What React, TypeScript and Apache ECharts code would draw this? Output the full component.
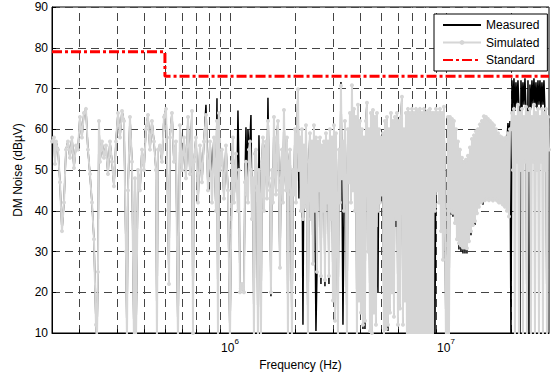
import React, { useEffect, useRef } from "react";
import * as echarts from "echarts";

// ---------- data (frequency in MHz, level in dBµV) ----------
// Band 1: 0.15 – 1 MHz
const freqBand1 = [0.15, 0.1532, 0.1548, 0.1565, 0.1599, 0.1633, 0.1668, 0.1704, 0.1741, 0.1778, 0.1817, 0.1856, 0.1896, 0.1937, 0.1979, 0.202, 0.2064, 0.2108, 0.2154, 0.22, 0.2248, 0.2297, 0.2346, 0.2397, 0.2422, 0.2448, 0.2474, 0.2501, 0.2555, 0.261, 0.2666, 0.2724, 0.2783, 0.2843, 0.2904, 0.2967, 0.3031, 0.3096, 0.3163, 0.3231, 0.3301, 0.3336, 0.3372, 0.3444, 0.3518, 0.3594, 0.3633, 0.3672, 0.3751, 0.3831, 0.3914, 0.3998, 0.4084, 0.4172, 0.4262, 0.4354, 0.4448, 0.4544, 0.4592, 0.4641, 0.4742, 0.4844, 0.4949, 0.5056, 0.5165, 0.522, 0.5275, 0.5389, 0.5505, 0.5624, 0.5745, 0.5869, 0.5996, 0.6125, 0.6257, 0.6392, 0.6529, 0.667, 0.6742, 0.6814, 0.6961, 0.7111, 0.7263, 0.742, 0.758, 0.7743, 0.791, 0.808, 0.8255, 0.8433, 0.8615, 0.8707, 0.8801, 0.8895, 0.8989, 0.9183, 0.9381, 0.9583, 0.9789, 1.0];
const simBand1 = [57, 58, 51.5, 57, 55, 47, 35, 42, 55, 57, 53, 58, 50.5, 56, 55, 63, 58, 64, 65, 55, 49, 42, 33, 12, 8, 25, 62, 52, 57, 53, 56, 49, 57, 52, 46, 57, 64, 58, 64.5, 62, 30, 8, 45, 63, 52, 8, 48, 8, 50, 45, 55, 50, 60, 63.5, 55, 62, 57, 50, 8, 55, 56, 52, 63, 65, 40, 22, 58, 64, 52, 57, 8, 61, 50, 58, 48, 63, 49, 64.5, 10, 52, 58, 42, 56, 47, 57, 63.5, 45, 57, 42, 58, 40, 62, 8, 64, 50, 55, 43, 56, 45, 8];
const measBand1 = [57, 58, 51.5, 57, 55, 47, 35, 42, 55, 57, 53, 58, 50.5, 56, 55, 63, 58, 64, 65, 55, 49, 42, 33, 12, 8, 25, 62, 52, 57, 53, 56, 49, 57, 52, 46, 57, 64, 58, 64.5, 62, 30, 8, 45, 63, 52, 8, 48, 8, 50, 45, 55, 50, 60, 63.5, 55, 62, 57, 50, 8, 55, 56, 52, 63, 65, 40, 22, 58, 64, 52, 57, 8, 61, 50, 58, 48, 63, 49, 64.5, 10, 52, 58, 42, 56, 47, 57, 66, 45, 57, 49, 58, 40, 67.6, 8, 64, 50, 55, 43, 56, 45, 8];

// Band 2: 1 – 2.5 MHz
const freqBand2 = [1.0216, 1.0325, 1.0436, 1.0548, 1.0661, 1.0775, 1.089, 1.1007, 1.1125, 1.1244, 1.1365, 1.1487, 1.161, 1.1734, 1.186, 1.1987, 1.2115, 1.2245, 1.2376, 1.2509, 1.2643, 1.2778, 1.2915, 1.3054, 1.3194, 1.3335, 1.3478, 1.3622, 1.3768, 1.3916, 1.4065, 1.4215, 1.4368, 1.4522, 1.4677, 1.4835, 1.4994, 1.5155, 1.5317, 1.5481, 1.5647, 1.5815, 1.5984, 1.6156, 1.6329, 1.6504, 1.6681, 1.686, 1.704, 1.7223, 1.7407, 1.7594, 1.7782, 1.7973, 1.8166, 1.836, 1.8557, 1.8756, 1.8957, 1.916, 1.9366, 1.9573, 1.9783, 1.9995, 2.0209, 2.0426, 2.0645, 2.0866, 2.109, 2.1316, 2.1545, 2.1776, 2.2009, 2.2245, 2.2484, 2.2725, 2.2969, 2.3214, 2.3462, 2.3714, 2.3968, 2.4225, 2.4484, 2.4747, 2.5012];
const simBand2 = [52, 58, 42, 49, 54, 45, 40, 50, 20, 21, 22, 21, 20, 47, 52, 44, 42, 55, 57, 50, 38, 48, 8, 54, 55, 45, 8, 50, 43, 8, 52, 58, 40, 55, 57, 43, 62, 48, 45, 20, 50, 42, 63, 50, 44, 58, 62, 45, 26, 48, 55, 42, 64.7, 50, 45, 58, 8, 52, 55, 44, 8, 50, 44, 60, 42, 58, 69.8, 50, 58, 40, 60, 38, 56, 41, 61, 44, 8, 52, 59, 38, 57, 27, 61, 40, 58];
const measBand2 = [52, 58, 42, 49, 54, 45, 64.6, 50, 20, 21, 22, 21, 20, 47, 60.5, 44, 60, 55, 57, 63.5, 38, 48, 8, 54, 55, 45, 8, 58.5, 43, 8, 52, 58, 40, 55, 57, 43, 67.7, 48, 45, 19, 50, 42, 63, 50, 44, 58, 62, 45, 26, 48, 55, 42, 64.7, 50, 45, 58, 8, 52, 55, 44, 8, 50, 44, 60, 42, 58, 69.8, 43, 58, 40, 60, 12, 56, 41, 61, 44, 8, 52, 59, 38, 57, 27, 61, 40, 10.5];

// Band 3: 2.5 – 10 MHz
const freqBand3 = [2.528, 2.5551, 2.5825, 2.6102, 2.6382, 2.6665, 2.695, 2.7239, 2.7531, 2.7826, 2.8125, 2.8426, 2.8731, 2.9039, 2.935, 2.9665, 2.9983, 3.0304, 3.0629, 3.0957, 3.1289, 3.1624, 3.1963, 3.2306, 3.2652, 3.3002, 3.3356, 3.3714, 3.4075, 3.444, 3.4809, 3.5182, 3.5559, 3.594, 3.6325, 3.6715, 3.7108, 3.7506, 3.7908, 3.8314, 3.8725, 3.914, 3.956, 3.9984, 4.0413, 4.0846, 4.1284, 4.1726, 4.2173, 4.2625, 4.3082, 4.3544, 4.4011, 4.4482, 4.4959, 4.5441, 4.5928, 4.642, 4.6918, 4.7421, 4.7929, 4.8443, 4.8962, 4.9486, 5.0017, 5.0553, 5.1095, 5.1642, 5.2196, 5.2755, 5.3321, 5.3892, 5.447, 5.5053, 5.5643, 5.624, 5.6843, 5.7452, 5.8068, 5.869, 5.9319, 5.9955, 6.0597, 6.1247, 6.1903, 6.2567, 6.3237, 6.3915, 6.46, 6.5293, 6.5993, 6.67, 6.7415, 6.8138, 6.8868, 6.9606, 7.0352, 7.1106, 7.1868, 7.2639, 7.3417, 7.4204, 7.5, 7.5803, 7.6616, 7.7437, 7.8267, 7.9106, 7.9954, 8.0811, 8.1677, 8.2552, 8.3437, 8.4331, 8.5235, 8.6149, 8.7072, 8.8005, 8.8949, 8.9902, 9.0865, 9.1839, 9.2824, 9.3818, 9.4824, 9.584, 9.6868, 9.7906, 9.8955, 10.002];
const simBand3 = [25, 57, 45, 58, 24, 56, 40, 57, 23, 59, 42, 57, 24, 60, 38, 58, 18, 61, 13, 59, 40, 8, 55, 42, 70.7, 48, 57, 40, 62, 45, 8, 60, 47, 64, 42, 70.8, 45, 65, 40, 63, 8, 66, 18, 62, 15, 60, 12, 58, 13, 62, 66.5, 30, 60, 10.5, 64, 10, 64.7, 15, 63, 12, 64, 40, 60, 42, 58, 44, 59, 8, 62, 11, 63, 12, 60, 15, 64, 20, 62, 14, 63, 38, 64, 12, 62, 16, 63, 68, 12, 60, 18, 64, 8, 65, 8, 64, 8, 65, 8, 64, 8, 65, 8, 64.5, 8, 65, 8, 64, 8, 65, 8, 64, 8, 64.5, 8, 65, 8, 64, 8, 64, 40, 65, 45, 64, 42, 65, 35, 64, 28, 65.5, 40, 8];
const measBand3 = [25, 57, 45, 58, 22, 56, 40, 57, 21.5, 59, 42, 57, 22, 60, 38, 58, 18, 61, 13, 59, 40, 8, 55, 42, 71.6, 48, 12, 40, 62, 45, 8, 60, 47, 64, 42, 70.8, 45, 65, 40, 63, 8, 66, 18, 62, 15, 60, 11, 58, 11, 62, 66.5, 30, 60, 10.5, 64, 10.5, 64.7, 15, 63, 12, 36, 20, 60, 42, 58, 44, 59, 8, 62, 11, 63, 10.5, 60, 15, 64, 20, 62, 14, 63, 36, 64, 12, 62, 16, 63, 68, 12, 60, 18, 64, 8, 65, 8, 64, 8, 65, 8, 64, 8, 65, 8, 64.5, 8, 65, 8, 64, 8, 65, 8, 64, 8, 64.5, 8, 65, 8, 45, 8, 64, 8, 65, 45, 64, 42, 65, 35, 64, 28, 65.5, 40, 8];

// Band 4: 10 – 20 MHz
const freqBand4 = [10.109, 10.217, 10.327, 10.437, 10.549, 10.662, 10.776, 10.892, 11.008, 11.126, 11.246, 11.366, 11.488, 11.612, 11.736, 11.862, 11.989, 12.118, 12.248, 12.379, 12.512, 12.646, 12.781, 12.918, 13.057, 13.197, 13.338, 13.481, 13.626, 13.772, 13.919, 14.069, 14.219, 14.371, 14.525, 14.681, 14.838, 14.997, 15.158, 15.321, 15.485, 15.651, 15.819, 15.988, 16.16, 16.333, 16.508, 16.685, 16.864, 17.044, 17.227, 17.412, 17.598, 17.786, 17.977, 18.17, 18.364, 18.561, 18.76, 18.961, 19.164, 19.37, 19.577, 19.787];
const simBand4 = [8, 63, 8, 63, 40, 62.5, 39.5, 62, 37, 60, 33, 57, 32, 55, 31.5, 53, 31, 52, 31, 52.5, 30.8, 53.5, 32.5, 55.5, 35, 57.6, 36.5, 58.5, 37.5, 59.5, 39.4, 60, 41, 61.2, 42, 62, 42.5, 63.2, 42.6, 63, 43, 62.5, 42.6, 62, 43, 61.5, 42.5, 61, 43, 60, 42.5, 59, 42, 58.3, 42, 58, 41.5, 57.5, 41, 58, 40, 59, 38.6, 60];
const measBand4 = [8, 63, 8, 63, 39, 62.5, 38.5, 62, 37, 60, 33, 57, 30.5, 55, 30, 53, 29.5, 52, 29.5, 52.5, 29.5, 53.5, 32.5, 55.5, 34, 57.6, 36.5, 58.5, 36.5, 59.5, 39.4, 60, 41, 61.2, 42, 62, 41.5, 63.2, 42.6, 63, 43, 62.5, 42.6, 62, 43, 61.5, 42.5, 61, 43, 60, 42.5, 59, 42, 58.3, 42, 58, 41.5, 57.5, 41, 58, 57, 61.5, 58, 62];

// Band 5: 20 – 30 MHz
const freqBand5 = [19.999, 20.214, 20.43, 20.649, 20.871, 21.094, 21.32, 21.549, 21.78, 22.013, 22.249, 22.488, 22.729, 22.972, 23.218, 23.467, 23.719, 23.973, 24.23, 24.49, 24.752, 25.018, 25.286, 25.557, 25.831, 26.107, 26.387, 26.67, 26.956, 27.245, 27.537, 27.832, 28.13, 28.432, 28.737, 29.044, 29.356, 29.67, 29.988];
const simBand5 = [60, 64, 50, 65, 8, 63, 52, 66, 8, 64, 50, 65, 8, 63, 52, 65.5, 8, 64, 50, 65, 8, 63, 52, 66, 8, 64, 50, 65, 8, 63, 52, 65, 8, 64, 50, 65, 8, 63, 55];
const measBand5 = [8, 72, 65, 72.5, 64.5, 71.5, 66, 72, 65, 8, 72, 65, 71.5, 66, 72.5, 65, 8, 72, 8, 71, 65, 72, 66, 72.5, 65.5, 71.5, 65, 72, 66, 72, 65, 71.5, 66, 72, 64, 65, 8, 63, 55];

// Standard limit line
const standardFreq = [0.15, 0.5, 0.5, 30];
const standardLevel = [79, 79, 73, 73];

// Axis ranges and grid positions
const xRangeHz = [1.5e5, 3e7];
const yRange = [10, 90];
const yStep = 10;
const gridFreqMHz = [0.2, 0.3, 0.4, 0.5, 0.6, 0.7, 0.8, 0.9, 1, 2, 3, 4, 5, 6, 7, 8, 9, 10, 20];

const FONT = "'Liberation Sans', Arial, Helvetica, sans-serif";

function pairs(freqs: number[], vals: number[]) {
  return freqs.map((f, i) => [f * 1e6, vals[i]]);
}

export default function App() {
  const ref = useRef<HTMLDivElement>(null);

  useEffect(() => {
    if (!ref.current) return;
    const chart = echarts.init(ref.current, null, { renderer: "svg" });

    const simFreq = [...freqBand1, ...freqBand2, ...freqBand3, ...freqBand4, ...freqBand5];
    const simVals = [...simBand1, ...simBand2, ...simBand3, ...simBand4, ...simBand5];
    const measVals = [...measBand1, ...measBand2, ...measBand3, ...measBand4, ...measBand5];

    const gridLines: any[] = gridFreqMHz.map((f) => ({ xAxis: f * 1e6 }));
    const tickMarks: any[] = gridFreqMHz.map((f) => [
      { coord: [f * 1e6, yRange[0]], lineStyle: { type: "solid", color: "#000", width: 1 } },
      { coord: [f * 1e6, yRange[0] + 0.9] },
    ]);

    const hiddenSymbol = { color: "rgba(0,0,0,0)", borderColor: "rgba(0,0,0,0)", borderWidth: 0, opacity: 0 };

    chart.setOption({
      animation: false,
      backgroundColor: "#fff",
      grid: {
        left: 52,
        right: 2,
        top: 7,
        bottom: 43,
        show: true,
        borderColor: "#000",
        borderWidth: 1,
        backgroundColor: "#fff",
      },
      legend: {
        data: [
          { name: "Measured", itemStyle: hiddenSymbol },
          { name: "Simulated" },
          { name: "Standard", itemStyle: hiddenSymbol },
        ],
        orient: "vertical",
        left: 434,
        top: 14,
        padding: [4, 8, 4, 8],
        itemGap: 3.5,
        itemWidth: 38,
        itemHeight: 6,
        backgroundColor: "#fff",
        borderColor: "#000",
        borderWidth: 1,
        borderRadius: 0,
        textStyle: { fontFamily: FONT, fontSize: 12, color: "#000", lineHeight: 14 },
      },
      xAxis: {
        type: "log",
        logBase: 10,
        min: xRangeHz[0],
        max: xRangeHz[1],
        name: "Frequency (Hz)",
        nameLocation: "middle",
        nameGap: 26,
        nameTextStyle: { fontFamily: FONT, fontSize: 12, color: "#000" },
        axisLine: { show: true, lineStyle: { color: "#000", width: 1 } },
        axisTick: { show: false },
        splitLine: { show: false },
        axisLabel: {
          showMinLabel: false,
          showMaxLabel: false,
          margin: 4,
          color: "#000",
          fontFamily: FONT,
          formatter: (v: number) => {
            const e = Math.log10(v);
            const r = Math.round(e);
            if (Math.abs(e - r) > 1e-6) return "";
            return `{b|10}{s|${r}}`;
          },
          rich: {
            b: { fontSize: 12, fontFamily: FONT, color: "#000", verticalAlign: "bottom", lineHeight: 17 },
            s: { fontSize: 8, fontFamily: FONT, color: "#000", verticalAlign: "top" },
          },
        },
      },
      yAxis: {
        type: "value",
        min: yRange[0],
        max: yRange[1],
        interval: yStep,
        name: "DM Noise (dBµV)",
        nameLocation: "middle",
        nameGap: 25,
        nameTextStyle: { fontFamily: FONT, fontSize: 12, color: "#000" },
        axisLine: { show: true, lineStyle: { color: "#000", width: 1 } },
        axisTick: { show: true, inside: true, length: 4, lineStyle: { color: "#000" } },
        axisLabel: { margin: 4, color: "#000", fontFamily: FONT, fontSize: 12 },
        splitLine: { show: true, lineStyle: { type: [8, 5], color: "#444", width: 1 } },
      },
      series: [
        {
          name: "grid",
          type: "line",
          z: 1,
          silent: true,
          data: [],
          symbol: "none",
          markLine: {
            silent: true,
            z: 1,
            symbol: ["none", "none"],
            label: { show: false },
            lineStyle: { type: [8, 5], color: "#444", width: 1 },
            emphasis: { disabled: true },
            data: [...gridLines, ...tickMarks],
          },
        },
        {
          name: "Measured",
          type: "line",
          z: 2,
          data: pairs(simFreq, measVals),
          symbol: "none",
          showSymbol: false,
          clip: true,
          lineStyle: { color: "#000", width: 1.5 },
          itemStyle: { color: "#000" },
        },
        {
          name: "Simulated",
          type: "line",
          z: 3,
          data: pairs(simFreq, simVals),
          symbol: "circle",
          symbolSize: 4,
          showSymbol: true,
          clip: true,
          lineStyle: { color: "#d6d6d6", width: 2 },
          itemStyle: { color: "#d6d6d6" },
        },
        {
          name: "Standard",
          type: "line",
          z: 4,
          data: pairs(standardFreq, standardLevel),
          symbol: "none",
          showSymbol: false,
          lineStyle: { color: "#ff0000", width: 3, type: [10, 3, 3, 3] },
          itemStyle: { color: "#ff0000" },
        },
      ],
    });

    return () => chart.dispose();
  }, []);

  return (
    <div
      ref={ref}
      style={{ position: "fixed", left: 0, top: 0, width: 551, height: 376, background: "#fff" }}
    />
  );
}
